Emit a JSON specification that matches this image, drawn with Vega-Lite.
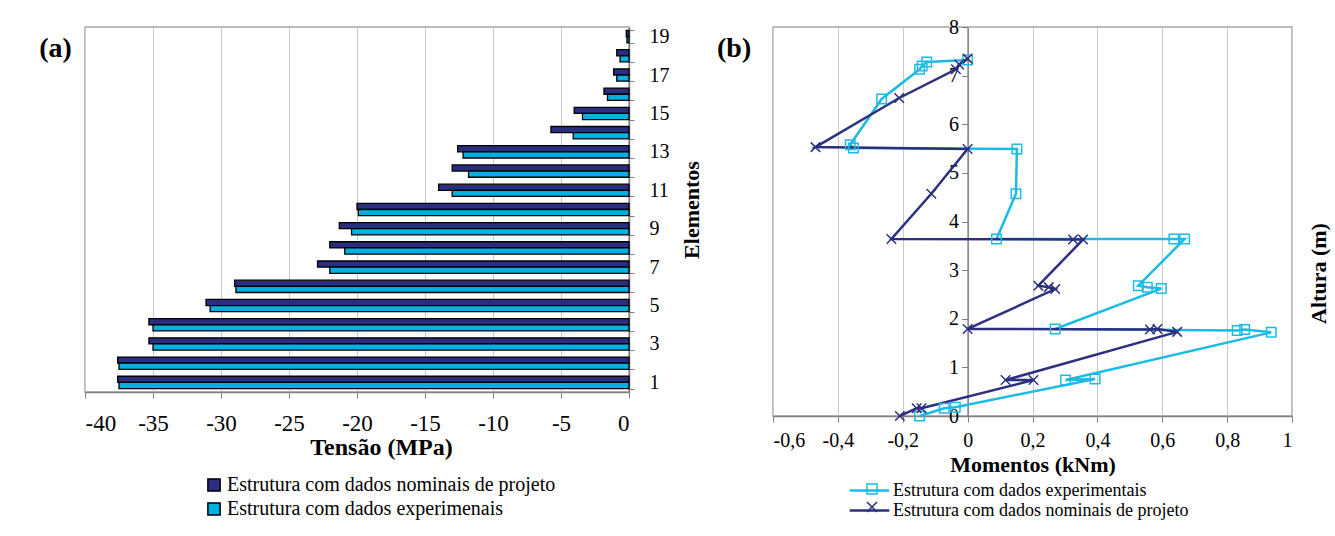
{
  "$schema": "https://vega.github.io/schema/vega-lite/v6.json",
  "background": "white",
  "padding": {"left": 38, "top": 16, "right": 5, "bottom": 5},
  "autosize": {"type": "pad"},
  "spacing": 144,
  "bounds": "flush",
  "config": {
    "font": "Liberation Serif",
    "view": {"stroke": "#A6A6A6", "strokeWidth": 1.5},
    "style": {"guide-label": {"font": "Liberation Serif"}, "guide-title": {"font": "Liberation Serif"}},
    "axis": {"labelFont": "Liberation Serif", "titleFont": "Liberation Serif", "labelColor": "#000", "titleColor": "#000", "domainColor": "#808080", "tickColor": "#808080", "gridColor": "#C8C8C8", "domainWidth": 1.5},
    "legend": {"labelFont": "Liberation Serif", "labelColor": "#000", "labelLimit": 500, "padding": 0},
    "title": {"font": "Liberation Serif", "color": "#000"}
  },
  "datasets": {
    "tensoes": [
      {"elemento": 1, "serie": "Estrutura com dados nominais de projeto", "tensao": -37.6},
      {"elemento": 1, "serie": "Estrutura com dados experimenais", "tensao": -37.5},
      {"elemento": 2, "serie": "Estrutura com dados nominais de projeto", "tensao": -37.6},
      {"elemento": 2, "serie": "Estrutura com dados experimenais", "tensao": -37.5},
      {"elemento": 3, "serie": "Estrutura com dados nominais de projeto", "tensao": -35.3},
      {"elemento": 3, "serie": "Estrutura com dados experimenais", "tensao": -35.0},
      {"elemento": 4, "serie": "Estrutura com dados nominais de projeto", "tensao": -35.3},
      {"elemento": 4, "serie": "Estrutura com dados experimenais", "tensao": -35.0},
      {"elemento": 5, "serie": "Estrutura com dados nominais de projeto", "tensao": -31.1},
      {"elemento": 5, "serie": "Estrutura com dados experimenais", "tensao": -30.8},
      {"elemento": 6, "serie": "Estrutura com dados nominais de projeto", "tensao": -29.0},
      {"elemento": 6, "serie": "Estrutura com dados experimenais", "tensao": -28.9},
      {"elemento": 7, "serie": "Estrutura com dados nominais de projeto", "tensao": -22.9},
      {"elemento": 7, "serie": "Estrutura com dados experimenais", "tensao": -22.0},
      {"elemento": 8, "serie": "Estrutura com dados nominais de projeto", "tensao": -22.0},
      {"elemento": 8, "serie": "Estrutura com dados experimenais", "tensao": -20.9},
      {"elemento": 9, "serie": "Estrutura com dados nominais de projeto", "tensao": -21.3},
      {"elemento": 9, "serie": "Estrutura com dados experimenais", "tensao": -20.4},
      {"elemento": 10, "serie": "Estrutura com dados nominais de projeto", "tensao": -20.0},
      {"elemento": 10, "serie": "Estrutura com dados experimenais", "tensao": -19.9},
      {"elemento": 11, "serie": "Estrutura com dados nominais de projeto", "tensao": -14.0},
      {"elemento": 11, "serie": "Estrutura com dados experimenais", "tensao": -13.0},
      {"elemento": 12, "serie": "Estrutura com dados nominais de projeto", "tensao": -13.0},
      {"elemento": 12, "serie": "Estrutura com dados experimenais", "tensao": -11.8},
      {"elemento": 13, "serie": "Estrutura com dados nominais de projeto", "tensao": -12.6},
      {"elemento": 13, "serie": "Estrutura com dados experimenais", "tensao": -12.2},
      {"elemento": 14, "serie": "Estrutura com dados nominais de projeto", "tensao": -5.74},
      {"elemento": 14, "serie": "Estrutura com dados experimenais", "tensao": -4.1},
      {"elemento": 15, "serie": "Estrutura com dados nominais de projeto", "tensao": -4.03},
      {"elemento": 15, "serie": "Estrutura com dados experimenais", "tensao": -3.42},
      {"elemento": 16, "serie": "Estrutura com dados nominais de projeto", "tensao": -1.84},
      {"elemento": 16, "serie": "Estrutura com dados experimenais", "tensao": -1.58},
      {"elemento": 17, "serie": "Estrutura com dados nominais de projeto", "tensao": -1.13},
      {"elemento": 17, "serie": "Estrutura com dados experimenais", "tensao": -0.9},
      {"elemento": 18, "serie": "Estrutura com dados nominais de projeto", "tensao": -0.9},
      {"elemento": 18, "serie": "Estrutura com dados experimenais", "tensao": -0.66},
      {"elemento": 19, "serie": "Estrutura com dados nominais de projeto", "tensao": -0.2},
      {"elemento": 19, "serie": "Estrutura com dados experimenais", "tensao": -0.15}
    ],
    "momentos": [
      {"serie": "Estrutura com dados experimentais", "ordem": 1, "momento": -0.148, "altura": 0.0},
      {"serie": "Estrutura com dados experimentais", "ordem": 2, "momento": -0.072, "altura": 0.16},
      {"serie": "Estrutura com dados experimentais", "ordem": 3, "momento": -0.038, "altura": 0.18},
      {"serie": "Estrutura com dados experimentais", "ordem": 4, "momento": 0.393, "altura": 0.76},
      {"serie": "Estrutura com dados experimentais", "ordem": 5, "momento": 0.302, "altura": 0.74},
      {"serie": "Estrutura com dados experimentais", "ordem": 6, "momento": 0.936, "altura": 1.72},
      {"serie": "Estrutura com dados experimentais", "ordem": 7, "momento": 0.854, "altura": 1.78},
      {"serie": "Estrutura com dados experimentais", "ordem": 8, "momento": 0.831, "altura": 1.76},
      {"serie": "Estrutura com dados experimentais", "ordem": 9, "momento": 0.27, "altura": 1.79},
      {"serie": "Estrutura com dados experimentais", "ordem": 10, "momento": 0.597, "altura": 2.62},
      {"serie": "Estrutura com dados experimentais", "ordem": 11, "momento": 0.554, "altura": 2.65},
      {"serie": "Estrutura com dados experimentais", "ordem": 12, "momento": 0.526, "altura": 2.68},
      {"serie": "Estrutura com dados experimentais", "ordem": 13, "momento": 0.669, "altura": 3.64},
      {"serie": "Estrutura com dados experimentais", "ordem": 14, "momento": 0.636, "altura": 3.64},
      {"serie": "Estrutura com dados experimentais", "ordem": 15, "momento": 0.089, "altura": 3.64},
      {"serie": "Estrutura com dados experimentais", "ordem": 16, "momento": 0.149, "altura": 4.57},
      {"serie": "Estrutura com dados experimentais", "ordem": 17, "momento": 0.152, "altura": 5.49},
      {"serie": "Estrutura com dados experimentais", "ordem": 18, "momento": -0.352, "altura": 5.51},
      {"serie": "Estrutura com dados experimentais", "ordem": 19, "momento": -0.362, "altura": 5.58},
      {"serie": "Estrutura com dados experimentais", "ordem": 20, "momento": -0.265, "altura": 6.52},
      {"serie": "Estrutura com dados experimentais", "ordem": 21, "momento": -0.148, "altura": 7.13},
      {"serie": "Estrutura com dados experimentais", "ordem": 22, "momento": -0.14, "altura": 7.2},
      {"serie": "Estrutura com dados experimentais", "ordem": 23, "momento": -0.126, "altura": 7.28},
      {"serie": "Estrutura com dados experimentais", "ordem": 24, "momento": 0.0, "altura": 7.32},
      {"serie": "Estrutura com dados nominais de projeto", "ordem": 1, "momento": -0.209, "altura": 0.0},
      {"serie": "Estrutura com dados nominais de projeto", "ordem": 2, "momento": -0.157, "altura": 0.16},
      {"serie": "Estrutura com dados nominais de projeto", "ordem": 3, "momento": -0.142, "altura": 0.16},
      {"serie": "Estrutura com dados nominais de projeto", "ordem": 4, "momento": 0.203, "altura": 0.74},
      {"serie": "Estrutura com dados nominais de projeto", "ordem": 5, "momento": 0.117, "altura": 0.74},
      {"serie": "Estrutura com dados nominais de projeto", "ordem": 6, "momento": 0.646, "altura": 1.73},
      {"serie": "Estrutura com dados nominais de projeto", "ordem": 7, "momento": 0.585, "altura": 1.79},
      {"serie": "Estrutura com dados nominais de projeto", "ordem": 8, "momento": 0.562, "altura": 1.78},
      {"serie": "Estrutura com dados nominais de projeto", "ordem": 9, "momento": 0.0, "altura": 1.79},
      {"serie": "Estrutura com dados nominais de projeto", "ordem": 10, "momento": 0.27, "altura": 2.61},
      {"serie": "Estrutura com dados nominais de projeto", "ordem": 11, "momento": 0.25, "altura": 2.65},
      {"serie": "Estrutura com dados nominais de projeto", "ordem": 12, "momento": 0.218, "altura": 2.68},
      {"serie": "Estrutura com dados nominais de projeto", "ordem": 13, "momento": 0.356, "altura": 3.63},
      {"serie": "Estrutura com dados nominais de projeto", "ordem": 14, "momento": 0.325, "altura": 3.63},
      {"serie": "Estrutura com dados nominais de projeto", "ordem": 15, "momento": -0.235, "altura": 3.64},
      {"serie": "Estrutura com dados nominais de projeto", "ordem": 16, "momento": -0.112, "altura": 4.57},
      {"serie": "Estrutura com dados nominais de projeto", "ordem": 17, "momento": 0.0, "altura": 5.49},
      {"serie": "Estrutura com dados nominais de projeto", "ordem": 18, "momento": -0.469, "altura": 5.53},
      {"serie": "Estrutura com dados nominais de projeto", "ordem": 19, "momento": -0.211, "altura": 6.54},
      {"serie": "Estrutura com dados nominais de projeto", "ordem": 20, "momento": -0.036, "altura": 7.13},
      {"serie": "Estrutura com dados nominais de projeto", "ordem": 21, "momento": -0.026, "altura": 7.23},
      {"serie": "Estrutura com dados nominais de projeto", "ordem": 22, "momento": 0.0, "altura": 7.35}
    ]
  },
  "resolve": {"scale": {"color": "independent", "shape": "independent", "stroke": "independent"}, "legend": {"color": "independent", "shape": "independent", "stroke": "independent"}},
  "hconcat": [
    {
      "width": 544,
      "height": 365,
      "data": {"name": "tensoes"},
      "title": {"text": "(a)", "orient": "left", "anchor": "end", "angle": 0, "fontSize": 28, "fontWeight": "bold", "offset": -20, "dy": 18},
      "mark": {"type": "bar", "stroke": "#000", "strokeWidth": 1.3},
      "encoding": {
        "y": {
          "field": "elemento", "type": "ordinal", "sort": "descending",
          "scale": {"paddingInner": 0.36, "paddingOuter": 0.18},
          "axis": {"orient": "right", "title": "Elementos", "titleAngle": 270, "titleBaseline": "top", "titleFont": "Liberation Serif", "titleFontSize": 22, "titleFontWeight": "bold", "titlePadding": 12,
                   "labelFont": "Liberation Serif", "labelFontSize": 20, "labelAngle": 0, "labelPadding": 15, "tickSize": 5, "tickBand": "extent", "grid": false,
                   "labelExpr": "datum.value % 2 == 1 ? datum.label : ''"}
        },
        "yOffset": {"field": "serie", "type": "nominal", "sort": ["Estrutura com dados nominais de projeto", "Estrutura com dados experimenais"]},
        "x": {
          "field": "tensao", "type": "quantitative",
          "scale": {"domain": [-40, 0], "nice": false},
          "axis": {"values": [-40, -35, -30, -25, -20, -15, -10, -5, 0], "labelExpr": "'' + datum.value", "labelFont": "Liberation Serif", "labelFontSize": 23, "labelPadding": 14, "tickSize": 6, "labelOverlap": false,
                   "title": "Tensão (MPa)", "titleFont": "Liberation Serif", "titleFontSize": 24, "titleFontWeight": "bold", "titlePadding": 0, "titleX": 296, "grid": true}
        },
        "color": {
          "field": "serie", "type": "nominal",
          "scale": {"domain": ["Estrutura com dados nominais de projeto", "Estrutura com dados experimenais"], "range": ["#2B2E7E", "#00B0E0"]},
          "legend": {"title": null, "orient": "none", "legendX": 119, "legendY": 448, "direction": "vertical", "symbolType": "square", "symbolSize": 150,
                     "symbolStrokeColor": "#000", "symbolStrokeWidth": 1.5, "labelFontSize": 20, "rowPadding": 4, "labelOffset": 3}
        }
      }
    },
    {
      "width": 519,
      "height": 389,
      "data": {"name": "momentos"},
      "title": {"text": "(b)", "orient": "left", "anchor": "end", "angle": 0, "fontSize": 28, "fontWeight": "bold", "offset": -13, "dy": 18},
      "encoding": {
        "x": {
          "field": "momento", "type": "quantitative",
          "scale": {"domain": [-0.6, 1], "nice": false},
          "axis": {"values": [-0.6, -0.4, -0.2, 0, 0.2, 0.4, 0.6, 0.8, 1], "labelExpr": "replace('' + datum.value, '.', ',')", "labelFont": "Liberation Serif", "labelFontSize": 20, "labelPadding": 8, "tickSize": 6, "labelOverlap": false,
                   "title": "Momentos (kNm)", "titleFont": "Liberation Serif", "titleFontSize": 22, "titleFontWeight": "bold", "titlePadding": 4, "grid": true}
        },
        "y": {
          "field": "altura", "type": "quantitative",
          "scale": {"domain": [0, 8], "nice": false},
          "axis": {"orient": "left", "offset": -194.6, "title": null, "grid": false, "values": [0, 1, 2, 3, 4, 5, 6, 7, 8], "labelFont": "Liberation Serif", "labelFontSize": 20, "tickSize": 6, "labelPadding": 3}
        }
      },
      "layer": [
        {
          "mark": {"type": "line", "strokeWidth": 2.5},
          "encoding": {
            "order": {"field": "ordem", "type": "quantitative"},
            "color": {
              "field": "serie", "type": "nominal",
              "scale": {"domain": ["Estrutura com dados experimentais", "Estrutura com dados nominais de projeto"], "range": ["#1BBBE6", "#2D2F80"]},
              "legend": {"title": null, "orient": "none", "legendX": 86, "legendY": 453, "direction": "vertical", "symbolType": "M-2.2,0H2.2", "symbolSize": 324, "symbolStrokeWidth": 2.5,
                         "labelFontSize": 18, "rowPadding": 0, "labelOffset": 13}
            }
          }
        },
        {
          "mark": {"type": "point", "filled": false, "size": 90, "strokeWidth": 1.5, "opacity": 1},
          "encoding": {
            "y": {
              "field": "altura", "type": "quantitative",
              "scale": {"domain": [0, 8], "nice": false},
              "axis": {"orient": "right", "title": "Altura (m)", "titleAngle": 270, "titleBaseline": "top", "titleFont": "Liberation Serif", "titleFontSize": 22, "titleFontWeight": "bold", "labels": false, "ticks": false, "domain": false, "grid": false, "titlePadding": 16, "titleY": 246}
            },
            "stroke": {
              "field": "serie", "type": "nominal",
              "scale": {"domain": ["Estrutura com dados nominais de projeto", "Estrutura com dados experimentais"], "range": ["#2D2F80", "#1BBBE6"]},
              "legend": {"title": null, "orient": "none", "legendX": 90, "legendY": 453, "direction": "vertical", "symbolSize": 100, "symbolStrokeWidth": 1.5, "symbolFillColor": "white",
                         "values": ["Estrutura com dados experimentais", "Estrutura com dados nominais de projeto"],
                         "labelFontSize": 18, "rowPadding": 0, "labelOffset": 13, "labelExpr": "''"}
            },
            "shape": {
              "field": "serie", "type": "nominal",
              "scale": {"domain": ["Estrutura com dados nominais de projeto", "Estrutura com dados experimentais"], "range": ["M-1,-1L1,1M-1,1L1,-1", "square"]},
              "legend": {"title": null, "orient": "none", "legendX": 90, "legendY": 453, "direction": "vertical", "symbolSize": 100, "symbolStrokeWidth": 1.5, "symbolFillColor": "white",
                         "values": ["Estrutura com dados experimentais", "Estrutura com dados nominais de projeto"],
                         "labelFontSize": 18, "rowPadding": 0, "labelOffset": 13, "labelExpr": "''"}
            }
          }
        }
      ],
      "resolve": {"axis": {"y": "independent"}}
    }
  ]
}
